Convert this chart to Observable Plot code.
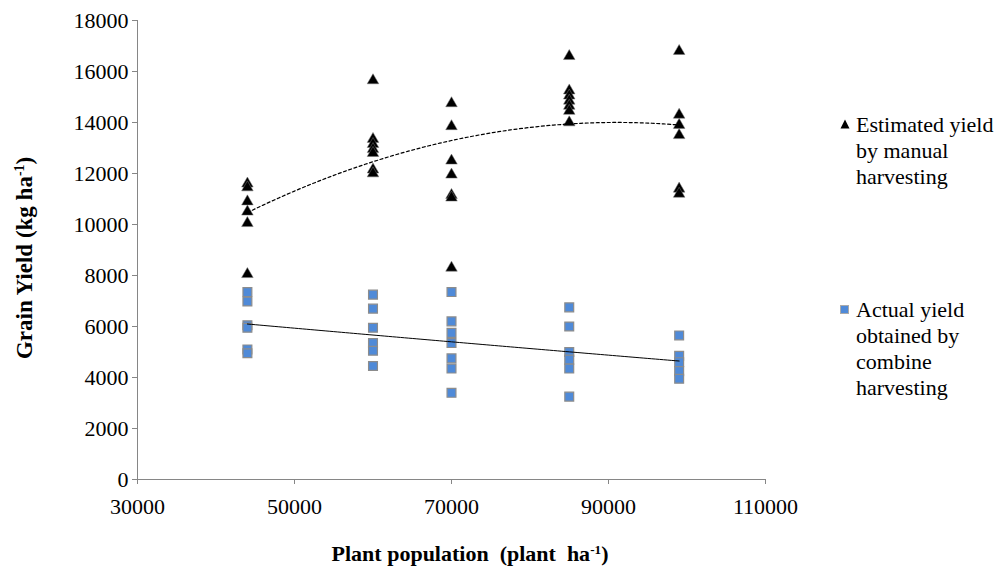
<!DOCTYPE html>
<html><head><meta charset="utf-8">
<script src="https://cdn.jsdelivr.net/npm/d3@7"></script>
<script src="https://cdn.jsdelivr.net/npm/@observablehq/plot@0.6"></script>
<style>
body{margin:0;background:#fff;}
#wrap{position:relative;width:998px;height:571px;font-family:"Liberation Serif","Times New Roman",Times,"DejaVu Serif",serif;color:#000;overflow:hidden;}
.leg{position:absolute;font-size:22px;line-height:26px;white-space:nowrap;}
.ttl{position:absolute;font-weight:bold;font-size:22px;white-space:nowrap;}
sup{font-size:0.6em;vertical-align:0.55em;line-height:0;}
</style></head><body><div id="wrap"></div>
<script>
const populations = [44000, 60000, 70000, 85000, 99000];
const estimatedYield = [
  [11600, 11450, 10900, 10500, 10050, 8050],
  [15650, 13350, 13150, 12950, 12800, 12150, 12000],
  [14750, 13850, 12500, 11950, 11150, 11050, 8300],
  [16600, 15250, 15050, 14850, 14650, 14450, 14000],
  [16800, 14300, 13900, 13500, 11400, 11200]
];
const actualYield = [
  [7350, 6980, 6050, 5950, 5100, 4950],
  [7250, 6700, 5950, 5350, 5050, 4450],
  [7350, 6200, 5750, 5350, 4750, 4350, 3400],
  [6750, 6000, 5000, 4700, 4350, 3250],
  [5650, 4850, 4600, 4250, 3950]
];
const xTicks = [30000, 50000, 70000, 90000, 110000];
const yTicks = [0, 2000, 4000, 6000, 8000, 10000, 12000, 14000, 16000, 18000];
const seriesNames = ["Estimated yield by manual harvesting", "Actual yield obtained by combine harvesting"];

const toRows = (vals) => vals.flatMap((arr, i) => arr.map(v => ({x: populations[i], y: v})));
const estRows = toRows(estimatedYield);
const actRows = toRows(actualYield);

// quadratic least-squares trend line (like a spreadsheet polynomial trendline)
function quadFit(rows) {
  const s = rows.map(r => [r.x / 1000, r.y]);
  const S = k => d3.sum(s, p => Math.pow(p[0], k));
  const T = k => d3.sum(s, p => Math.pow(p[0], k) * p[1]);
  const A = [[S(0), S(1), S(2), T(0)], [S(1), S(2), S(3), T(1)], [S(2), S(3), S(4), T(2)]];
  for (let i = 0; i < 3; i++) {
    for (let j = i + 1; j < 3; j++) {
      const f = A[j][i] / A[i][i];
      for (let k = i; k < 4; k++) A[j][k] -= f * A[i][k];
    }
  }
  const c = [0, 0, 0];
  for (let i = 2; i >= 0; i--) {
    let v = A[i][3];
    for (let k = i + 1; k < 3; k++) v -= A[i][k] * c[k];
    c[i] = v / A[i][i];
  }
  const [x0, x1] = d3.extent(rows, r => r.x);
  return d3.range(x0, x1 + 1, 500).map(x => ({x, y: c[0] + c[1] * x / 1000 + c[2] * (x / 1000) ** 2}));
}
const fitEst = quadFit(estRows);
const fitAct = quadFit(actRows);

const FONT = "'Liberation Serif', 'Times New Roman', Times, 'DejaVu Serif', serif";
const chart = Plot.plot({
  width: 998, height: 571,
  marginLeft: 137, marginRight: 233, marginTop: 20, marginBottom: 92,
  x: {domain: [30000, 110000]},
  y: {domain: [0, 18000]},
  style: {fontFamily: FONT, fontSize: "22px", color: "#000", background: "#fff"},
  marks: [
    Plot.ruleX([30000], {stroke: "#868686"}),
    Plot.ruleY([0], {stroke: "#868686"}),
    Plot.axisX({ticks: xTicks, tickFormat: d3.format("d"), tickSize: 5, tickPadding: 14, stroke: "#868686", fill: "#000", label: null, fontSize: 22}),
    Plot.axisY({ticks: yTicks, tickFormat: d3.format("d"), tickSize: 5, tickPadding: 4, stroke: "#868686", fill: "#000", label: null, fontSize: 22}),
    Plot.dot(estRows, {x: "x", y: "y", symbol: "triangle", r: 4.3, fill: "#000", stroke: "#777", strokeWidth: 0.5}),
    Plot.dot(actRows, {x: "x", y: "y", symbol: "square", r: 5, fill: "#4f8ad8", stroke: "#8c8c8c", strokeWidth: 1.2}),
    Plot.line(fitEst, {x: "x", y: "y", stroke: "#000", strokeWidth: 1.2, strokeDasharray: "3,2.5"}),
    Plot.line(fitAct, {x: "x", y: "y", stroke: "#000", strokeWidth: 1})
  ]
});
const wrap = document.getElementById("wrap");
wrap.appendChild(chart);

function addDiv(cls, style, html) {
  const d = document.createElement("div");
  d.className = cls; d.setAttribute("style", style); d.innerHTML = html;
  wrap.appendChild(d); return d;
}
// legend
addDiv("leg", "left:840px;top:119px;", '<svg width="10" height="10" style="display:block"><path d="M5,0.5L9.5,9.5L0.5,9.5Z" fill="#000"/></svg>');
addDiv("leg", "left:856px;top:112px;", "Estimated yield<br>by manual<br>harvesting");
addDiv("leg", "left:840px;top:305px;", '<svg width="9" height="9" style="display:block"><rect x="0.5" y="0.5" width="8" height="8" fill="#4f8ad8" stroke="#aaa" stroke-width="1"/></svg>');
addDiv("leg", "left:856px;top:297px;", "Actual yield<br>obtained by<br>combine<br>harvesting");
// axis titles
addDiv("ttl", "left:470px;top:554px;transform:translate(-50%,-50%);", "Plant population&nbsp; (plant&nbsp; ha<sup>-1</sup>)");
addDiv("ttl", "left:25px;top:258px;font-size:23px;transform:translate(-50%,-50%) rotate(-90deg);", "Grain Yield (kg ha<sup>-1</sup>)");
</script>
</body></html>
